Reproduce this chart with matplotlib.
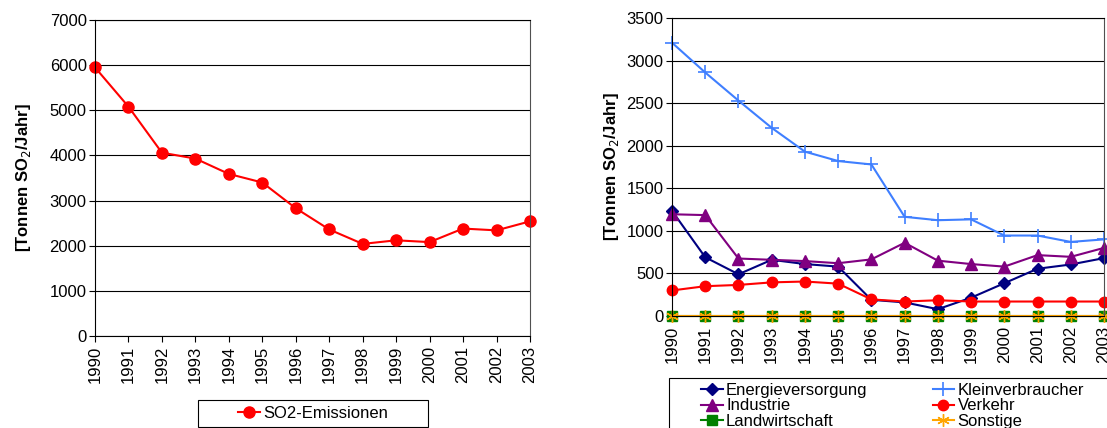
import matplotlib
matplotlib.use("Agg")
import matplotlib.pyplot as plt
from matplotlib.patches import Rectangle

plt.rcParams['font.family'] = ['Liberation Sans', 'DejaVu Sans']

years = [1990, 1991, 1992, 1993, 1994, 1995, 1996, 1997, 1998, 1999, 2000, 2001, 2002, 2003]
year_labels = [str(y) for y in years]

so2_total = [5950, 5080, 4060, 3930, 3590, 3400, 2830, 2360, 2040, 2120, 2080, 2380, 2340, 2540]

energie = [1235, 690, 490, 660, 610, 580, 190, 160, 80, 215, 385, 555, 605, 680]
klein = [3210, 2860, 2530, 2210, 1930, 1820, 1780, 1165, 1125, 1135, 945, 945, 870, 900]
industrie = [1195, 1185, 675, 660, 645, 620, 665, 860, 650, 610, 580, 715, 695, 800]
verkehr = [300, 350, 365, 395, 405, 380, 195, 170, 185, 170, 170, 170, 170, 170]
landwirtschaft = [5, 5, 5, 5, 5, 5, 5, 5, 5, 5, 5, 5, 5, 5]
sonstige = [5, 5, 5, 5, 5, 5, 5, 5, 5, 5, 5, 5, 5, 5]

W, H = 1107, 428
fig = plt.figure(figsize=(W / 100, H / 100), dpi=100)
FS = 12

def fx(px):
    return px / W

def fy(py):
    return 1 - py / H

def style(ax, ymax, step, pad):
    x = list(range(len(years)))
    ax.set_xlim(0, len(years) - 1)
    ax.set_ylim(0, ymax)
    ax.set_xticks(x)
    ax.set_xticklabels(year_labels, rotation=90, fontsize=FS)
    ax.set_yticks(range(0, ymax + 1, step))
    ax.tick_params(axis='y', labelsize=FS, length=4, width=0.8, direction='out', pad=2)
    ax.tick_params(axis='x', length=4, width=0.8, direction='out', pad=3)
    ax.grid(axis='y', color='black', linewidth=0.8)
    ax.set_axisbelow(True)
    for s in ax.spines.values():
        s.set_linewidth(0.8)
    ax.spines['right'].set_color('#505050')
    ax.set_ylabel('[Tonnen SO$_2$/Jahr]', fontsize=FS, fontweight='bold', labelpad=pad)
    return x

# left chart
ax1 = fig.add_axes([fx(95), fy(336), fx(530 - 95), (336 - 20) / H])
x = style(ax1, 7000, 1000, 12)
ax1.plot(x, so2_total, color='#FF0000', marker='o', markersize=8, linewidth=1.5,
         label='SO2-Emissionen', clip_on=False)
fig.patches.append(Rectangle((fx(198), fy(427)), fx(428 - 198), (427 - 400) / H,
                             transform=fig.transFigure, fill=False,
                             edgecolor='black', linewidth=0.8))
fig.legend(*ax1.get_legend_handles_labels(), loc='center', bbox_to_anchor=(fx(313), fy(413)),
           fontsize=FS, frameon=False, handlelength=1.3, handletextpad=0.2,
           borderpad=0, borderaxespad=0)

# right chart
ax2 = fig.add_axes([fx(672), fy(316), fx(1104 - 672), (316 - 18) / H])
x = style(ax2, 3500, 500, 4)
ax2.plot(x, energie, color='#000080', marker='D', markersize=6, linewidth=1.5,
         label='Energieversorgung', clip_on=False)
ax2.plot(x, klein, color='#3F7FFF', marker='+', markersize=10, markeredgewidth=1.2,
         linewidth=1.5, label='Kleinverbraucher', clip_on=False)
ax2.plot(x, industrie, color='#800080', marker='^', markersize=8, linewidth=1.5,
         label='Industrie', clip_on=False)
ax2.plot(x, verkehr, color='#FF0000', marker='o', markersize=7.5, linewidth=1.5,
         label='Verkehr', clip_on=False)
ax2.plot(x, landwirtschaft, color='#008000', marker='s', markersize=6.5, linewidth=1.5,
         label='Landwirtschaft', clip_on=False)
ax2.plot(x, sonstige, color='#FFA500', marker=(6, 2, 0), markersize=9,
         markeredgewidth=1.0, linewidth=1.5, label='Sonstige', clip_on=False)

fig.patches.append(Rectangle((fx(669), fy(445)), fx(460), (445 - 378) / H,
                             transform=fig.transFigure, fill=False,
                             edgecolor='black', linewidth=0.8))
h, l = ax2.get_legend_handles_labels()
order = [0, 2, 4, 1, 3, 5]
fig.legend([h[i] for i in order], [l[i] for i in order], loc='upper left',
           bbox_to_anchor=(fx(701), fy(383)), ncol=2, fontsize=FS, frameon=False,
           handlelength=1.3, handletextpad=0.2, borderpad=0, borderaxespad=0,
           labelspacing=0.03, columnspacing=3.9)

fig.savefig('out.png', dpi=100)
